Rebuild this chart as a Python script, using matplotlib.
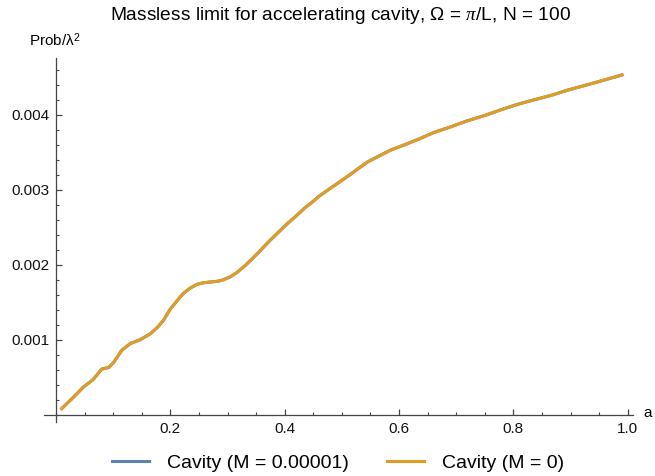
import numpy as np
import matplotlib
matplotlib.use("Agg")
import matplotlib.pyplot as plt
from matplotlib.ticker import MultipleLocator, FixedLocator

plt.rcParams['font.family'] = ['Liberation Sans', 'DejaVu Sans']
plt.rcParams['mathtext.fontset'] = 'custom'
plt.rcParams['mathtext.rm'] = 'Liberation Sans'
plt.rcParams['mathtext.it'] = 'Liberation Serif:italic'

# acceleration a vs transition probability / lambda^2
a_vals = [0.010, 0.030, 0.048, 0.065, 0.080, 0.092, 0.101, 0.115, 0.130, 0.147,
          0.165, 0.178, 0.188, 0.200, 0.215, 0.223, 0.235, 0.247, 0.258, 0.270,
          0.283, 0.293, 0.305, 0.317, 0.331, 0.346, 0.360, 0.375, 0.390, 0.405,
          0.420, 0.434, 0.449, 0.463, 0.482, 0.501, 0.516, 0.530, 0.545, 0.565,
          0.586, 0.610, 0.633, 0.660, 0.691, 0.720, 0.750, 0.780, 0.808, 0.837,
          0.867, 0.896, 0.925, 0.958, 0.990]
prob_massive = [0.000083, 0.00023, 0.00037, 0.00047, 0.00061, 0.00063, 0.00070, 0.00086, 0.00095, 0.00100,
                0.00108, 0.00117, 0.00126, 0.00141, 0.00155, 0.00162, 0.00169, 0.00174, 0.00176, 0.00177,
                0.00178, 0.00180, 0.00184, 0.00190, 0.00199, 0.00210, 0.00221, 0.00233, 0.00244, 0.00255,
                0.00265, 0.00275, 0.00284, 0.00293, 0.00303, 0.00313, 0.00321, 0.00329, 0.00337, 0.00345,
                0.00353, 0.00360, 0.00367, 0.00376, 0.00384, 0.00392, 0.00399, 0.00407, 0.00414, 0.00420,
                0.00426, 0.00433, 0.00439, 0.00446, 0.00453]
prob_massless = list(prob_massive)

labels = ["Cavity (M = 0.00001)", "Cavity (M = 0)"]
colors = ["#5E81B5", "#E19C24"]

fig = plt.figure(figsize=(6.55, 4.76), dpi=100)
ax = fig.add_axes([44/655, (476-422.3)/476, 589/655, 364.3/476])

ax.plot(a_vals, prob_massive, color=colors[0], lw=2.2, label=labels[0],
        solid_joinstyle='round')
ax.plot(a_vals, prob_massless, color=colors[1], lw=2.2, label=labels[1],
        solid_joinstyle='round')

ax.set_xlim(-0.021, 1.0093)
ax.set_ylim(-0.0001, 0.004756)

ax.spines['left'].set_position(('data', 0))
ax.spines['bottom'].set_position(('data', 0))
for s in ['top', 'right']:
    ax.spines[s].set_visible(False)
for s in ['left', 'bottom']:
    ax.spines[s].set_color('#444444')
    ax.spines[s].set_linewidth(0.9)

ax.xaxis.set_major_locator(FixedLocator([0.2, 0.4, 0.6, 0.8, 1.0]))
ax.xaxis.set_minor_locator(MultipleLocator(0.05))
ax.yaxis.set_major_locator(FixedLocator([0.001, 0.002, 0.003, 0.004]))
ax.yaxis.set_minor_locator(MultipleLocator(0.0002))
ax.set_xticklabels(["0.2", "0.4", "0.6", "0.8", "1.0"])
ax.set_yticklabels(["0.001", "0.002", "0.003", "0.004"])
ax.tick_params(which='both', direction='in', color='#444444', labelsize=11, labelcolor='#111111')
ax.tick_params(which='major', length=4.5, width=0.9, pad=5)
ax.tick_params(which='minor', length=2.5, width=0.8)

fig.text(340/655, 1 - 15/476, r"Massless limit for accelerating cavity, Ω = $\mathit{\pi}$/L, N = 100",
         ha='center', va='center', fontsize=13.8)
fig.text(29/655, 1 - 40/476, r"Prob/λ$^2$", ha='left', va='center', fontsize=11)
fig.text(648/655, 1 - 413/476, "a", ha='center', va='center', fontsize=11)

fig.legend(loc='center', bbox_to_anchor=(338/655, 1 - 463/476), ncol=2, frameon=False,
           fontsize=14, handlelength=1.9, handletextpad=0.9, columnspacing=2.0)

fig.savefig("out.png", dpi=100)
